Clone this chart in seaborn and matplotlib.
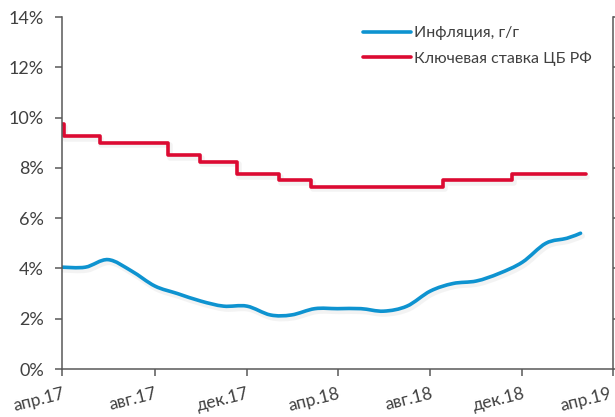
import numpy as np
import pandas as pd
import matplotlib
matplotlib.use("Agg")
import matplotlib.pyplot as plt
import matplotlib.dates as mdates
import matplotlib.patheffects as pe
import matplotlib.transforms as mtransforms
from matplotlib.path import Path
from matplotlib.patches import PathPatch
from matplotlib.lines import Line2D
import seaborn as sns

# Inflation, y/y (%), monthly + last weekly estimate
infl_dates = ["2017-04-30", "2017-05-31", "2017-06-30", "2017-07-31", "2017-08-31",
              "2017-09-30", "2017-10-31", "2017-11-30", "2017-12-31", "2018-01-31",
              "2018-02-28", "2018-03-31", "2018-04-30", "2018-05-31", "2018-06-30",
              "2018-07-31", "2018-08-31", "2018-09-30", "2018-10-31", "2018-11-30",
              "2018-12-31", "2019-01-31", "2019-02-28", "2019-03-18"]
infl_values = [4.05, 4.05, 4.35, 3.9, 3.3, 3.0, 2.7, 2.5, 2.5, 2.15, 2.15, 2.4,
               2.4, 2.4, 2.3, 2.5, 3.1, 3.4, 3.5, 3.8, 4.25, 5.0, 5.2, 5.4]

# Key rate of the Bank of Russia (%)
rate_dates = ["2017-04-30", "2017-05-02", "2017-06-19", "2017-09-18", "2017-10-30",
              "2017-12-18", "2018-02-12", "2018-03-26", "2018-09-17", "2018-12-17",
              "2019-03-25"]
rate_values = [9.75, 9.25, 9.00, 8.50, 8.25, 7.75, 7.50, 7.25, 7.50, 7.75, 7.75]

tick_dates = ["2017-04-30", "2017-08-31", "2017-12-31", "2018-04-30",
              "2018-08-31", "2018-12-31", "2019-04-30"]
tick_labels = ["апр.17", "авг.17", "дек.17", "апр.18", "авг.18", "дек.18", "апр.19"]

blue = "#0E93D0"
red = "#DC0A32"
axis_col = "#595959"
text_col = "#404040"

sns.set_theme(style="white")
plt.rcParams["font.family"] = ["Lato", "DejaVu Sans"]

fig = plt.figure(figsize=(6.15, 4.17), dpi=100)
ax = fig.add_axes([62 / 615, 1 - 369 / 417, (613 - 62) / 615, (369 - 17) / 417])

shadow = [pe.SimpleLineShadow(offset=(1.2, -2), shadow_color="gray", alpha=0.09, linewidth=4),
          pe.Normal()]

rate_df = pd.DataFrame({"date": pd.to_datetime(rate_dates), "rate": rate_values})
sns.lineplot(data=rate_df, x="date", y="rate", ax=ax, color=red, linewidth=2.6,
             drawstyle="steps-post", path_effects=shadow)

# smoothed inflation line (Bezier through data points, like Excel's smooth line)
xs = mdates.date2num(pd.to_datetime(infl_dates))
ys = np.array(infl_values)
px = np.concatenate([[xs[0]], xs, [xs[-1]]])
py = np.concatenate([[ys[0]], ys, [ys[-1]]])
verts = [(xs[0], ys[0])]
codes = [Path.MOVETO]
for i in range(1, len(px) - 2):
    c1 = (px[i] + (px[i + 1] - px[i - 1]) / 6, py[i] + (py[i + 1] - py[i - 1]) / 6)
    c2 = (px[i + 1] - (px[i + 2] - px[i]) / 6, py[i + 1] - (py[i + 2] - py[i]) / 6)
    verts += [c1, c2, (px[i + 1], py[i + 1])]
    codes += [Path.CURVE4] * 3
patch = PathPatch(Path(verts, codes), facecolor="none", edgecolor=blue, linewidth=2.6,
                  capstyle="round", path_effects=shadow)
ax.add_patch(patch)

ax.set_xlim(pd.Timestamp(tick_dates[0]), pd.Timestamp(tick_dates[-1]))
ax.set_ylim(0, 14)
ax.set_yticks(range(0, 15, 2))
ax.set_yticklabels([f"{v}%" for v in range(0, 15, 2)])
ax.set_xticks(pd.to_datetime(tick_dates))
ax.set_xticklabels(tick_labels, rotation=14, ha="right", rotation_mode="anchor")
ax.set_xlabel("")
ax.set_ylabel("")

for side in ["left", "bottom", "right"]:
    ax.spines[side].set_color(axis_col)
    ax.spines[side].set_linewidth(1.1)
ax.spines["top"].set_visible(False)
ax.tick_params(axis="both", direction="out", length=5, width=1.1, color=axis_col,
               labelcolor=text_col)
ax.tick_params(axis="y", right=True, labelright=False, left=True, labelsize=13, pad=8)
ax.tick_params(axis="x", bottom=True, labelsize=12.5, pad=7)

# keep the last date label inside the figure
last = ax.get_xticklabels()[-1]
last.set_transform(last.get_transform() +
                   mtransforms.ScaledTranslation(-4 / 100, 0, fig.dpi_scale_trans))

handles = [Line2D([], [], color=blue, linewidth=2.6),
           Line2D([], [], color=red, linewidth=2.6)]
leg = ax.legend(handles, ["Инфляция, г/г", "Ключевая ставка ЦБ РФ"],
                loc="upper left", bbox_to_anchor=(0.52, 1.015), frameon=False,
                fontsize=11.5, handlelength=3.0, handletextpad=0.2, labelspacing=0.7,
                labelcolor=text_col)

fig.savefig("out.png", dpi=100)
